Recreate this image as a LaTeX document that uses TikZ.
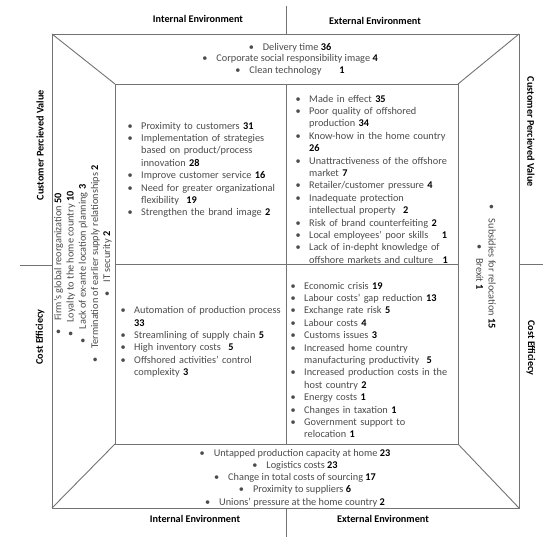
\documentclass[tikz,border=0pt]{standalone}
\usepackage{fontspec}
\setmainfont{Carlito}
\usepackage{enumitem}
\setlist[itemize]{nosep, leftmargin=13.5pt, labelwidth=8pt, labelsep=5.5pt, align=left, label=\textbullet}
\newcommand{\num}[1]{\textcolor{black}{\textbf{#1}}}
\newcommand{\blt}{\textbullet\hspace{9pt}}

\begin{document}
\begin{tikzpicture}[x=1pt, y=-1pt,
    ln/.style={draw=black!55, line width=0.9pt},
    hd/.style={font=\fontsize{10.2}{12}\selectfont\bfseries, inner sep=0pt},
    lst/.style={anchor=north west, inner sep=0pt, align=left, text=black!70, font=\fontsize{10.3}{12.4}\selectfont},
    clst/.style={align=center, inner sep=0pt, text=black!70, font=\fontsize{10.3}{12.2}\selectfont}]
    \path[fill=white, use as bounding box] (0,0) rectangle (558,543);

    \coordinate (A) at (52,34);
    \coordinate (B) at (519,34);
    \coordinate (C) at (519,508);
    \coordinate (D) at (52,508);
    \coordinate (a) at (115,84);
    \coordinate (b) at (458,84);
    \coordinate (c) at (458,444);
    \coordinate (d) at (115,444);
    \coordinate (mt) at (286,84);
    \coordinate (mb) at (286,444);
    \coordinate (ml) at (115,264.5);
    \coordinate (mr) at (458,264.5);
    \coordinate (Tt) at (286,6);
    \coordinate (To) at (286,34);
    \coordinate (Bt) at (286,537);
    \coordinate (Bo) at (286,508);
    \coordinate (Lt) at (20,265);
    \coordinate (Lo) at (52,265);
    \coordinate (Rt) at (543,264);
    \coordinate (Ro) at (519,264);

    \draw[ln] (A) -- (B) -- (C) -- (D) -- cycle;
    \draw[ln] (a) -- (b) -- (c) -- (d) -- cycle;
    \draw[ln] (A) -- (a);
    \draw[ln] (B) -- (b);
    \draw[ln] (C) -- (c);
    \draw[ln] (D) -- (d);
    \draw[ln] (mt) -- (mb);
    \draw[ln] (ml) -- (mr);
    \draw[ln] (Tt) -- (To);
    \draw[ln] (Bt) -- (Bo);
    \draw[ln] (Lt) -- (Lo);
    \draw[ln] (Rt) -- (Ro);

    \node[hd] (IntTop) at (198,19) {Internal Environment};
    \node[hd] (ExtTop) at (375,21) {External Environment};
    \node[hd] (IntBot) at (195,519) {Internal Environment};
    \node[hd] (ExtBot) at (383,519) {External Environment};
    \node[hd, rotate=90] (CpvLeft) at (40,145) {Customer Percieved Value};
    \node[hd, rotate=90] (CeLeft) at (40,337) {Cost Efficiecy};
    \node[hd, rotate=-90] (CpvRight) at (531,132) {Customer Percieved Value};
    \node[hd, rotate=-90] (CeRight) at (531,348) {Cost Efficiecy};

    \node[clst, font=\fontsize{10.3}{11.6}\selectfont] (TopList) at (290,59) {\blt Delivery time \num{36}\\ \blt Corporate social responsibility image \num{4}\\ \blt Clean technology\hspace{18pt}\num{1}};
    \node[clst] (BotList) at (295,478) {\blt Untapped production capacity at home \num{23}\\ \blt Logistics costs \num{23}\\ \blt Change in total costs of sourcing \num{17}\\ \blt Proximity to suppliers \num{6}\\ \blt Unions' pressure at the home country \num{2}};
    \node[clst, rotate=90] (LeftList) at (83,264) {\blt Firm's global reorganization \num{50}\\ \blt Loyalty to the home country \num{10}\\ \blt Lack of ex-ante location planning \num{3}\\ \blt Termination of earlier supply relationships \num{2}\\ \blt IT security \num{2}};
    \node[clst, rotate=-90] (RightList) at (486,267) {\blt Subsidies for relocation \num{15}\\ \blt Brexit \num{1}};

    \node[lst, text width=156pt] (IntCpv) at (127.5,116.5) {\begin{itemize}
        \item Proximity to customers \num{31}
        \item Implementation of strategies\\ based on product/process\\ innovation \num{28}
        \item Improve customer service \num{16}
        \item Need for greater organizational\\ flexibility\hspace{4pt} \num{19}
        \item Strengthen the brand image \num{2}
    \end{itemize}};
    \node[lst, text width=158pt] (ExtCpv) at (295.5,89.5) {\begin{itemize}
        \item Made in effect \num{35}
        \item Poor quality of offshored\\ production \num{34}
        \item Know-how in the home country\\ \num{26}
        \item Unattractiveness of the offshore\\ market \num{7}
        \item Retailer/customer pressure \num{4}
        \item Inadequate protection\\ intellectual property\hspace{4pt} \num{2}
        \item Risk of brand counterfeiting \num{2}
        \item Local employees' poor skills\hspace{10pt} \num{1}
        \item Lack of in-depht knowledge of\\ offshore markets and culture\hspace{6pt} \num{1}
    \end{itemize}};
    \node[lst, text width=162pt] (IntCe) at (120.5,301) {\begin{itemize}
        \item Automation of production process\\ \num{33}
        \item Streamlining of supply chain \num{5}
        \item High inventory costs\hspace{4pt} \num{5}
        \item Offshored activities' control\\ complexity \num{3}
    \end{itemize}};
    \node[lst, text width=162pt] (ExtCe) at (290.5,276.5) {\begin{itemize}
        \item Economic crisis \num{19}
        \item Labour costs' gap reduction \num{13}
        \item Exchange rate risk \num{5}
        \item Labour costs \num{4}
        \item Customs issues \num{3}
        \item Increased home country\\ manufacturing productivity\hspace{4pt} \num{5}
        \item Increased production costs in the\\ host country \num{2}
        \item Energy costs \num{1}
        \item Changes in taxation \num{1}
        \item Government support to\\ relocation \num{1}
    \end{itemize}};
\end{tikzpicture}
\end{document}
